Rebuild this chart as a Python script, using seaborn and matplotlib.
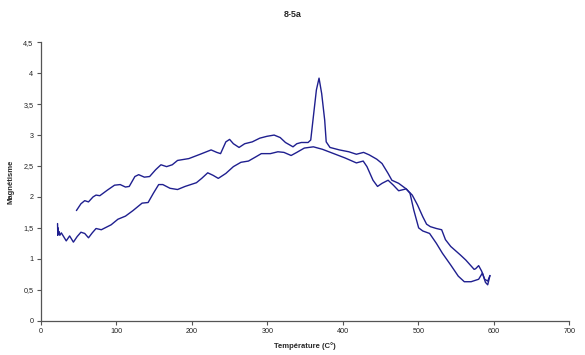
import numpy as np
import pandas as pd
import matplotlib
matplotlib.use("Agg")
import matplotlib.pyplot as plt
import seaborn as sns
from matplotlib.ticker import FuncFormatter

# --- heating curve (lower at left) ---
heat_temp = [22, 22.3, 22.6, 23, 24, 25, 27, 30, 33.5, 38, 43, 48, 53, 58, 63, 68, 73, 80,
             93, 102, 112, 122, 134, 142, 149, 156, 161.5, 171, 181, 191, 206, 213, 221, 228,
             235, 245, 255, 265, 275, 285, 292, 304, 314, 322, 331.5, 339, 349, 361, 373,
             388, 403, 418, 427, 432, 440, 446, 452, 460, 467, 474, 484, 489, 494, 500.5,
             506, 515, 524, 532, 543, 553, 561, 570, 580, 585, 589, 592, 595]
heat_mag = [1.57, 1.38, 1.50, 1.40, 1.44, 1.38, 1.42, 1.36, 1.29, 1.37, 1.27, 1.36, 1.43, 1.41, 1.34, 1.42, 1.49, 1.47,
            1.55, 1.64, 1.69, 1.78, 1.90, 1.91, 2.06, 2.20, 2.20, 2.14, 2.12, 2.17, 2.23, 2.30, 2.39, 2.35,
            2.30, 2.38, 2.49, 2.56, 2.58, 2.65, 2.70, 2.70, 2.73, 2.72, 2.67, 2.72, 2.79, 2.81, 2.77,
            2.70, 2.63, 2.55, 2.58, 2.49, 2.27, 2.17, 2.22, 2.27, 2.19, 2.10, 2.13, 2.06, 1.79, 1.50,
            1.45, 1.41, 1.25, 1.09, 0.90, 0.72, 0.63, 0.63, 0.67, 0.77, 0.62, 0.58, 0.73]

# --- cooling curve (upper at left, with peak near 370) ---
cool_temp = [595, 592, 588, 584, 580, 576, 574, 563, 556, 543, 536, 531, 524, 516, 511, 506,
             499, 492, 484, 474, 465, 460, 452, 445, 435, 427.5, 418, 408, 395.5, 383, 378,
             376, 372, 368.5, 365, 361, 357.5, 354, 345, 339, 334, 324, 317, 309, 299.5, 290,
             280, 270, 262.5, 255, 250, 245, 238, 233, 225.5, 211, 196, 181, 174, 166.5, 159,
             152, 144, 137, 129.5, 124.5, 117, 112, 105, 97.5, 88, 78, 73, 69, 63, 58, 53, 47]
cool_mag = [0.73, 0.64, 0.67, 0.80, 0.89, 0.84, 0.83, 0.98, 1.06, 1.20, 1.31, 1.47, 1.49, 1.52, 1.56, 1.68,
            1.87, 2.03, 2.13, 2.22, 2.27, 2.38, 2.54, 2.61, 2.68, 2.72, 2.69, 2.73, 2.76, 2.80, 2.89,
            3.24, 3.67, 3.92, 3.73, 3.30, 2.92, 2.88, 2.88, 2.86, 2.81, 2.88, 2.96, 3.00, 2.98, 2.95,
            2.89, 2.86, 2.80, 2.86, 2.93, 2.89, 2.70, 2.72, 2.76, 2.69, 2.62, 2.59, 2.52, 2.49, 2.52,
            2.44, 2.33, 2.32, 2.36, 2.33, 2.17, 2.16, 2.20, 2.19, 2.11, 2.02, 2.03, 2.00, 1.92, 1.94, 1.89, 1.78]

x_ticks = [0, 100, 200, 300, 400, 500, 600, 700]
y_ticks = [0, 0.5, 1, 1.5, 2, 2.5, 3, 3.5, 4, 4.5]

LINE_COLOR = "#1f1f8f"

sns.set_style("ticks")
plt.rcParams['font.family'] = ['Liberation Sans', 'DejaVu Sans']

fig = plt.figure(figsize=(5.85, 3.55), dpi=100)
ax = fig.add_axes([0.070, 0.0966, 0.903, 0.7844])

heat = pd.DataFrame({"temp": heat_temp, "mag": heat_mag})
cool = pd.DataFrame({"temp": cool_temp, "mag": cool_mag})
sns.lineplot(data=heat, x="temp", y="mag", sort=False, color=LINE_COLOR, lw=1.0, ax=ax)
sns.lineplot(data=cool, x="temp", y="mag", sort=False, color=LINE_COLOR, lw=1.0, ax=ax)

ax.set_xlim(0, 700)
ax.set_ylim(0, 4.5)
ax.set_xticks(x_ticks)
ax.set_yticks(y_ticks)
ax.yaxis.set_major_formatter(FuncFormatter(lambda v, p: f"{v:g}".replace(".", ",")))
ax.tick_params(labelsize=5.2, length=3, width=0.8, color="#555555", labelcolor="#222222", pad=2.5)
for side in ["top", "right"]:
    ax.spines[side].set_visible(False)
for side in ["left", "bottom"]:
    ax.spines[side].set_color("#555555")
    ax.spines[side].set_linewidth(0.9)

ax.set_xlabel("Température (C°)", fontsize=5.5, fontweight="bold", labelpad=5)
ax.set_ylabel("Magnétisme", fontsize=5.5, fontweight="bold", labelpad=6)
fig.text(0.5, 0.958, "8-5a", ha="center", va="center", fontsize=6.5, fontweight="bold")

fig.savefig("out.png", dpi=100)
